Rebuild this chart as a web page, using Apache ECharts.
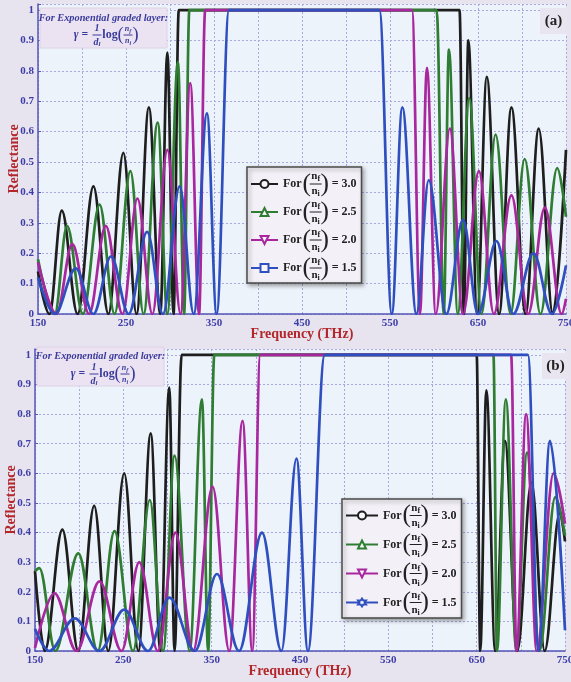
<!DOCTYPE html>
<html><head><meta charset="utf-8">
<script src="https://cdn.jsdelivr.net/npm/echarts@6/dist/echarts.min.js"></script>
<style>html,body{margin:0;padding:0;background:#e7e3ef;} #c{width:571px;height:682px;}</style>
</head><body><div id="c"></div>
<script>
// ---------- data ----------
const X_TICK_VALUES = [150, 250, 350, 450, 550, 650, 750];
const X_TICK_LABELS = ['150', '250', '350', '450', '550', '650', '750'];
const Y_TICK_VALUES = [0, 0.1, 0.2, 0.3, 0.4, 0.5, 0.6, 0.7, 0.8, 0.9, 1];
const Y_TICK_LABELS = ['0', '0.1', '0.2', '0.3', '0.4', '0.5', '0.6', '0.7', '0.8', '0.9', '1'];
const RATIOS = ['3.0', '2.5', '2.0', '1.5'];

// panel (a) : [frequency THz, reflectance]
const A_30 = [[150,0.14],[163,0],[177,0.34],[195,0],[213,0.42],[230,0],[247,0.53],[262,0],[276,0.68],[289,0],[297,0.86],[304,0],[310,1],[629,1],[634,0],[639,0.9],[649,0],[660,0.78],[674,0],[688,0.68],[704,0],[719,0.61],[735,0],[750,0.54]];
const A_25 = [[150,0.18],[169,0],[183,0.29],[201,0],[220,0.36],[237,0],[255,0.47],[270,0],[286,0.63],[297,0],[309,0.83],[316,0],[322,1],[603,1],[611,0],[617,0.87],[627,0],[640,0.71],[654,0],[670,0.59],[687,0],[703,0.51],[721,0],[740,0.48],[750,0.32]];
const A_20 = [[150,0.17],[171,0],[189,0.23],[208,0],[227,0.29],[246,0],[263,0.38],[280,0],[297,0.54],[312,0],[323,0.76],[333,0],[340,1],[575,1],[584,0],[592,0.81],[602,0],[618,0.61],[633,0],[651,0.47],[668,0],[688,0.39],[707,0],[726,0.35],[745,0],[750,0.05]];
const A_15 = [[150,0.12],[169,0],[193,0.15],[213,0],[233,0.19],[253,0],[274,0.27],[292,0],[311,0.42],[327,0],[342,0.66],[353,0],[367,1],[538,1],[552,0],[564,0.68],[580,0],[594,0.44],[614,0],[633,0.31],[650,0],[671,0.24],[690,0],[713,0.2],[734,0],[750,0.16]];

// panel (b)
const B_30 = [[150,0.27],[161,0],[181,0.41],[199,0],[217,0.49],[233,0],[251,0.6],[267,0],[281,0.735],[292,0],[302,0.89],[308,0],[316,1],[650,1],[654,0],[661,0.88],[671,0],[682,0.71],[696,0],[712,0.57],[727,0],[744,0.465],[750,0.37]];
const B_25 = [[150,0.27],[155,0.28],[173,0],[199,0.33],[221,0],[240,0.405],[261,0],[280,0.51],[295,0],[308,0.66],[325,0],[339,0.85],[346,0],[353,1],[669,1],[673,0],[683,0.85],[695,0],[707,0.67],[721,0],[739,0.52],[750,0.39]];
const B_20 = [[150,0.01],[172,0.195],[197,0],[223,0.235],[248,0],[268,0.3],[289,0],[309,0.4],[329,0],[351,0.555],[370,0],[385,0.777],[396,0],[405,1],[689,1],[695,0],[706,0.8],[718,0],[737,0.6],[750,0.43]];
const B_15 = [[150,0.075],[166,0],[195,0.11],[223,0],[251,0.14],[278,0],[302,0.18],[331,0],[356,0.26],[381,0],[407,0.4],[429,0],[446,0.65],[459,0],[478,1],[708,1],[720,0],[733,0.71],[750,0.07]];

// ---------- styling ----------
const F = '"Liberation Serif", "DejaVu Serif", serif';
const COLORS = ['#1e1e1e', '#2f7d32', '#a8279f', '#2f4fbf'];
const DOWN = 'path://M0,0L10,0L5,9Z';
const STAR = 'path://M5,0L6.5,2.6L9.5,2.6L8,5L9.5,7.4L6.5,7.4L5,10L3.5,7.4L0.5,7.4L2,5L0.5,2.6L3.5,2.6Z';
const SYM_A = ['circle', 'triangle', DOWN, 'rect'];
const SYM_B = ['circle', 'triangle', DOWN, STAR];
const AXIS_BLUE = '#3d3da8';
const TITLE_RED = '#b3262a';

const chart = echarts.init(document.getElementById('c'), null, {renderer: 'canvas'});

function xAxis(gi) {
  return {
    gridIndex: gi, type: 'value', min: 150, max: 750, interval: 50,
    axisLine: {onZero: false, lineStyle: {color: '#5656b8', width: 1.5}},
    axisTick: {show: false},
    splitLine: {show: true, lineStyle: {color: '#a9a9df', type: [2, 2], width: 1}},
    axisLabel: {
      margin: 4, color: AXIS_BLUE, fontFamily: F, fontWeight: 'bold', fontSize: 11,
      formatter: v => { const i = X_TICK_VALUES.indexOf(Math.round(v)); return i >= 0 ? X_TICK_LABELS[i] : ''; }
    },
    name: 'Frequency (THz)', nameLocation: 'middle', nameGap: 13, nameMoveOverlap: false,
    nameTextStyle: {color: TITLE_RED, fontFamily: F, fontWeight: 'bold', fontSize: 14}
  };
}
function yAxis(gi) {
  return {
    gridIndex: gi, type: 'value', min: 0, max: 1.02, interval: 0.1,
    axisLine: {show: true, lineStyle: {color: '#5656b8', width: 1.5}},
    axisTick: {show: true, inside: true, length: 3, lineStyle: {color: '#5656b8'}},
    splitLine: {show: true, lineStyle: {color: '#a9a9df', type: [2, 2], width: 1}},
    axisLabel: {
      margin: 4, color: AXIS_BLUE, fontFamily: F, fontWeight: 'bold', fontSize: 11,
      formatter: v => {
        const r = Math.round(v * 10) / 10;
        if (Math.abs(v - r) > 1e-6) return '';
        const i = Y_TICK_VALUES.findIndex(t => Math.abs(t - r) < 1e-6);
        return i >= 0 ? Y_TICK_LABELS[i] : '';
      }
    },
    name: 'Reflectance', nameLocation: 'middle', nameGap: 17, nameMoveOverlap: false,
    nameTextStyle: {color: TITLE_RED, fontFamily: F, fontWeight: 'bold', fontSize: 14}
  };
}
function mk(name, data, color, symbol, gi) {
  return {
    name, type: 'line', xAxisIndex: gi, yAxisIndex: gi, data,
    smooth: 0.36, smoothMonotone: 'x', showSymbol: false, symbol, symbolSize: 9,
    lineStyle: {color, width: 2.7},
    itemStyle: {color: '#f6f5f9', borderColor: color, borderWidth: 1.8},
    emphasis: {disabled: true}, silent: true, clip: true
  };
}
const A_DATA = [A_30, A_25, A_20, A_15];
const B_DATA = [B_30, B_25, B_20, B_15];
const A_NAMES = RATIOS.map(r => '(a) For (nf/ni) = ' + r);
const B_NAMES = RATIOS.map(r => '(b) For (nf/ni) = ' + r);
const series = [];
A_DATA.forEach((d, i) => series.push(mk(A_NAMES[i], d, COLORS[i], SYM_A[i], 0)));
B_DATA.forEach((d, i) => series.push(mk(B_NAMES[i], d, COLORS[i], SYM_B[i], 1)));

// ---------- legend geometry ----------
const LEG_FONT = 12;
const GAP_W = 24;
const LEG = [
  {left: 247, top: 167, pad: [3, 5, 1, 3], iw: 27, rowH: 28, names: A_NAMES},
  {left: 342, top: 499, pad: [2, 5, 1, 3], iw: 32, rowH: 29, names: B_NAMES}
];
const mctx = document.createElement('canvas').getContext('2d');
mctx.font = 'bold ' + LEG_FONT + 'px ' + F;
const wFor = mctx.measureText('For ').width;

function legend(L) {
  return {
    left: L.left, top: L.top, orient: 'vertical', data: L.names, selectedMode: false,
    itemWidth: L.iw, itemHeight: 10, itemGap: 0, padding: L.pad,
    backgroundColor: '#f3f1f7', borderColor: '#4a4a4a', borderWidth: 1.5,
    shadowBlur: 4, shadowColor: 'rgba(0,0,0,0.35)', shadowOffsetX: 2, shadowOffsetY: 2,
    formatter: n => '{a|For }{g|}{a| = ' + n.slice(-3) + '}',
    textStyle: {
      rich: {
        a: {fontFamily: F, fontWeight: 'bold', fontSize: LEG_FONT, color: '#222', lineHeight: L.rowH},
        g: {width: GAP_W, height: L.rowH, lineHeight: L.rowH}
      }
    }
  };
}

// ---------- graphic helpers ----------
function txt(x, y, text, o) {
  return {type: 'text', x, y, z: 100, silent: true,
    style: Object.assign({text, fill: o.color || '#222', fontFamily: F, fontSize: o.fs || 11,
      fontWeight: o.fw || 'bold', fontStyle: o.fst || 'normal', align: o.align || 'center',
      verticalAlign: o.va || 'middle'}, o.rich ? {rich: o.rich} : {})};
}
function sub(main, s, fs, color, italic) {
  const st = italic ? 'italic' : 'normal';
  return {
    text: '{m|' + main + '}{s|' + s + '}',
    rich: {
      m: {fontFamily: F, fontSize: fs, fontWeight: 'bold', fontStyle: st, fill: color, color},
      s: {fontFamily: F, fontSize: Math.round(fs * 0.7), fontWeight: 'bold', fontStyle: st, fill: color, color, padding: [Math.round(fs * 0.45), 0, 0, 0]}
    }
  };
}
function frac(cx, cy, nm, ns, dm, ds, fs, color, paren, w, italic) {
  const els = [];
  const n = sub(nm, ns, fs, color, italic), d = sub(dm, ds, fs, color, italic);
  els.push(txt(cx, cy - 1, n.text, {rich: n.rich, va: 'bottom', fs, color}));
  els.push(txt(cx, cy + 1, d.text, {rich: d.rich, va: 'top', fs, color}));
  els.push({type: 'line', z: 100, silent: true, shape: {x1: cx - w / 2, y1: cy, x2: cx + w / 2, y2: cy}, style: {stroke: color, lineWidth: 1}});
  if (paren) {
    els.push(txt(cx - w / 2 - 3, cy, '(', {fs: fs * 2.3, fw: 'normal', color}));
    els.push(txt(cx + w / 2 + 3, cy, ')', {fs: fs * 2.3, fw: 'normal', color}));
  }
  return els;
}

const graphic = [];
// legend fractions
LEG.forEach(L => {
  const tx = L.left + L.pad[3] + L.iw + 5;
  const cx = tx + wFor + GAP_W / 2;
  for (let i = 0; i < 4; i++) {
    const cy = L.top + L.pad[0] + L.rowH / 2 + i * L.rowH;
    graphic.push(...frac(cx, cy, 'n', 'f', 'n', 'i', 11, '#222', true, 12, false));
  }
});
// annotation boxes
const ANN = [
  {x: 40, y: 8, w: 127, h: 40, l1y: 18, l2y: 35, gx: 88, fx: 97, lx: 110, px: 128},
  {x: 37, y: 347, w: 127, h: 39, l1y: 356, l2y: 374, gx: 85, fx: 94, lx: 107, px: 125}
];
const ANN_COLOR = '#3a3a9c';
ANN.forEach(A => {
  graphic.push({type: 'rect', z: 90, silent: true, shape: {x: A.x, y: A.y, width: A.w, height: A.h},
    style: {fill: '#ebe3f1', stroke: '#ddd2e6', lineWidth: 1}});
  graphic.push(txt(A.x + A.w / 2, A.l1y, 'For Exponential graded layer:', {fs: 10.3, fst: 'italic', color: ANN_COLOR}));
  graphic.push(txt(A.gx, A.l2y, 'γ =', {fs: 11.5, fst: 'italic', color: ANN_COLOR, align: 'right'}));
  graphic.push(...frac(A.fx, A.l2y, '1', '', 'd', 'l', 10, ANN_COLOR, false, 9, true));
  graphic.push(txt(A.lx, A.l2y, 'log', {fs: 12, color: ANN_COLOR}));
  graphic.push(...frac(A.px, A.l2y, 'n', 'f', 'n', 'i', 8, ANN_COLOR, true, 9, true));
});
// panel labels
[{x: 540, y: 8, t: '(a)'}, {x: 542, y: 353, t: '(b)'}].forEach(P => {
  graphic.push({type: 'rect', z: 90, silent: true, shape: {x: P.x, y: P.y, width: 27, height: 26}, style: {fill: '#e9e5f0'}});
  graphic.push(txt(P.x + 13.5, P.y + 13, P.t, {fs: 15, color: '#222'}));
});

chart.setOption({
  animation: false,
  backgroundColor: '#e7e3ef',
  grid: [
    {left: 38, top: 4, width: 528, height: 310, show: true, backgroundColor: '#edf3fa', borderWidth: 0, containLabel: false, outerBoundsMode: 'none'},
    {left: 35, top: 349, width: 530, height: 302, show: true, backgroundColor: '#edf3fa', borderWidth: 0, containLabel: false, outerBoundsMode: 'none'}
  ],
  xAxis: [xAxis(0), xAxis(1)],
  yAxis: [yAxis(0), yAxis(1)],
  legend: LEG.map(legend),
  series,
  graphic
});
</script></body></html>
